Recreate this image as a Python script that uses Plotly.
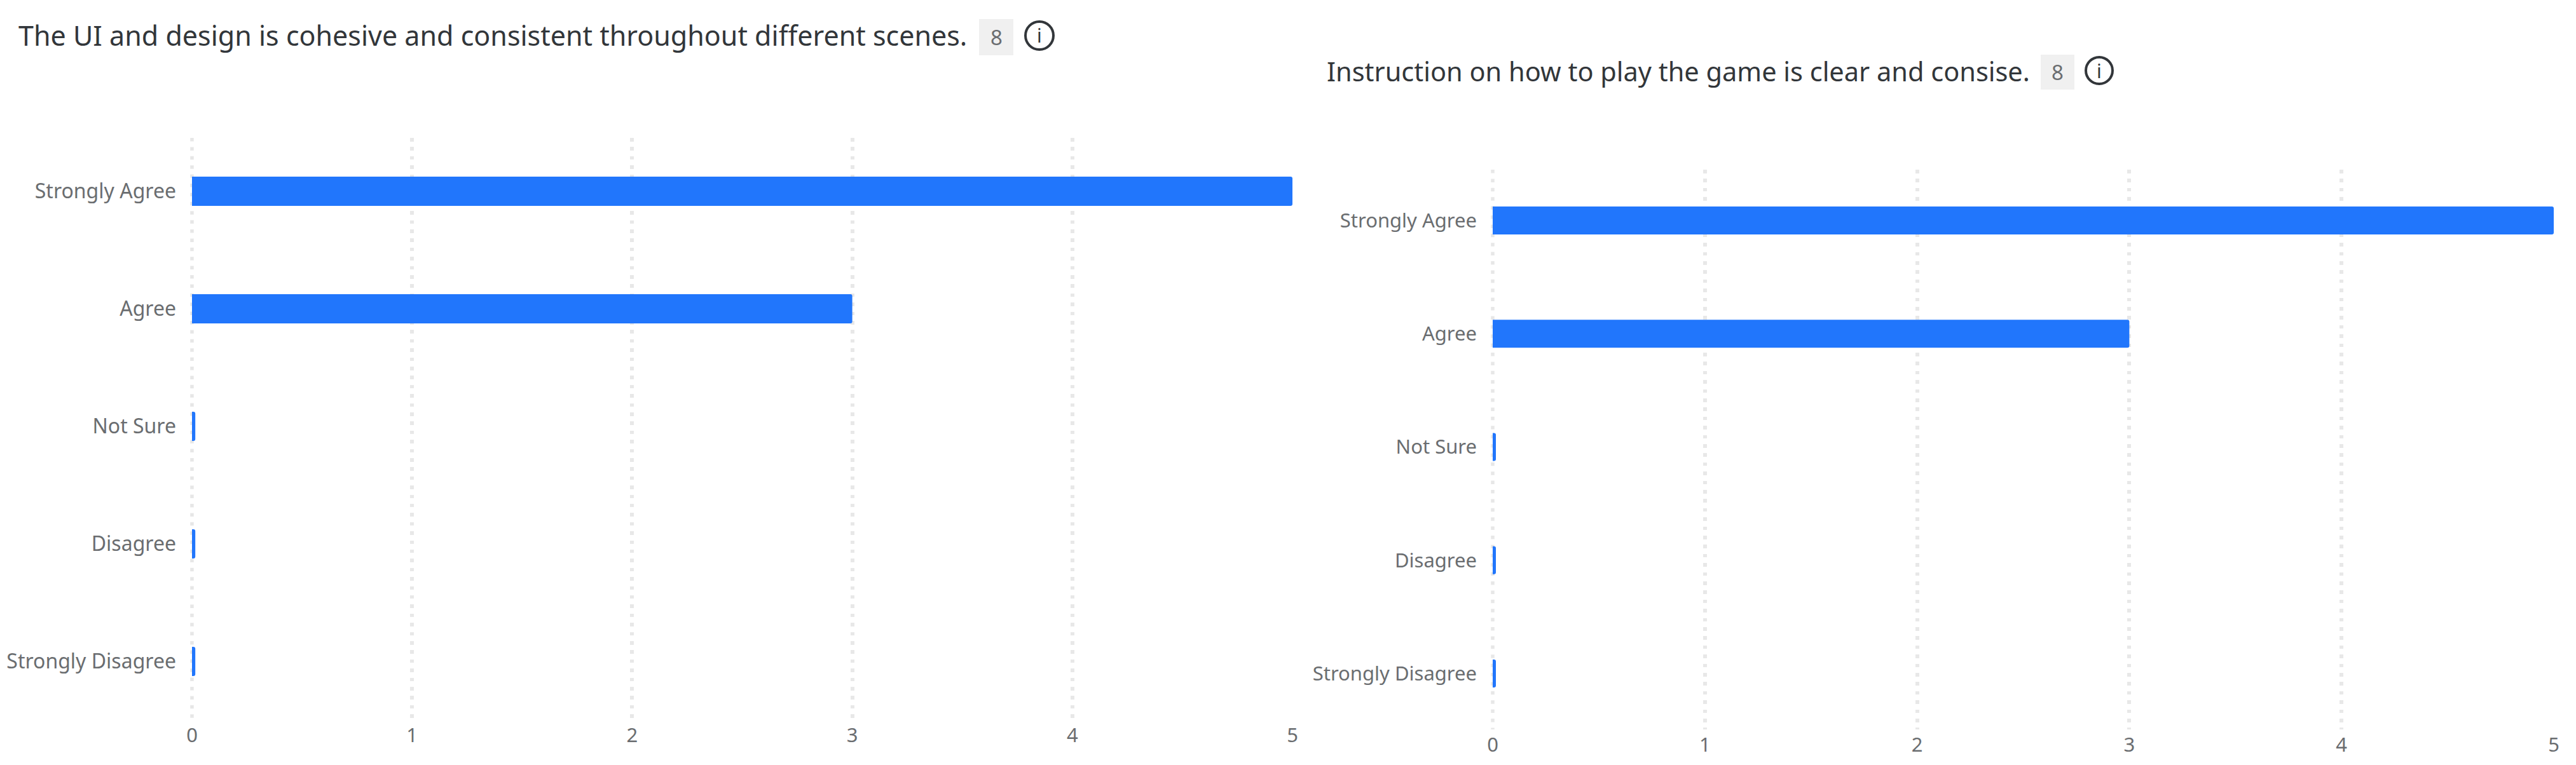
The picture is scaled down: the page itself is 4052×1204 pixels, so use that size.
import plotly.graph_objects as go

W, H = 4052, 1204
categories = ["Strongly Agree", "Agree", "Not Sure", "Disagree", "Strongly Disagree"]
ui_counts = [5, 3, 0.015, 0.015, 0.015]
instruction_counts = [5, 3, 0.015, 0.015, 0.015]
x_ticks = [0, 1, 2, 3, 4, 5]
title_left = "The UI and design is cohesive and consistent throughout different scenes."
title_right = "Instruction on how to play the game is clear and consise."
n_left = "8"
n_right = "8"

FONT = "Noto Sans"
BLUE = "#2176fc"
LABEL = "#6a6d70"
DASH = "5.5px,8.9px"


def px(x):
    return x / W


def py(y):
    return 1 - y / H


fig = go.Figure()
fig.add_bar(x=ui_counts, y=categories, orientation="h", xaxis="x", yaxis="y",
            marker=dict(color=BLUE, line_width=0), width=0.249, showlegend=False)
fig.add_bar(x=instruction_counts, y=categories, orientation="h", xaxis="x2", yaxis="y2",
            marker=dict(color=BLUE, line_width=0), width=0.247, showlegend=False)


def xaxis(x0, x1, anchor, size):
    return dict(domain=[px(x0), px(x1)], range=[0, 5], anchor=anchor, tickmode="array",
                tickvals=x_ticks, showgrid=True, griddash=DASH, gridcolor="rgba(0,0,0,0.09)",
                gridwidth=5.5, zeroline=False, showline=False, ticks="", automargin=False,
                tickfont=dict(family=FONT, size=size, color=LABEL), ticklabelstandoff=3)


def yaxis(y0, y1, r, anchor, size):
    return dict(domain=[py(y1), py(y0)], range=r, anchor=anchor, type="category",
                categoryorder="array", categoryarray=categories, showgrid=False,
                zeroline=False, showline=False, ticks="", automargin=False,
                tickfont=dict(family=FONT, size=size, color=LABEL), ticklabelstandoff=24)


shapes = []
annotations = []


def header(text, n, tx, ty, size, bx0, bx1, by0, by1, cx, cy, r):
    annotations.append(dict(text=text, x=px(tx), y=py(ty), xref="paper", yref="paper",
                            xanchor="left", yanchor="middle", showarrow=False,
                            font=dict(family=FONT, size=size, color="#32363a")))
    shapes.append(dict(type="rect", xref="paper", yref="paper", x0=px(bx0), x1=px(bx1),
                       y0=py(by0), y1=py(by1), fillcolor="#f0f0f0", line_width=0))
    annotations.append(dict(text=n, x=px((bx0 + bx1) / 2), y=py((by0 + by1) / 2), xref="paper",
                            yref="paper", showarrow=False, xanchor="center", yanchor="middle",
                            font=dict(family=FONT, size=33, color=LABEL)))
    shapes.append(dict(type="circle", xref="paper", yref="paper", x0=px(cx - r), x1=px(cx + r),
                       y0=py(cy - r), y1=py(cy + r), line=dict(color="#32363a", width=4)))
    annotations.append(dict(text="i", x=px(cx), y=py(cy), xref="paper", yref="paper",
                            showarrow=False, xanchor="center", yanchor="middle",
                            font=dict(family=FONT, size=30, color="#32363a")))


header(title_left, n_left, 27, 55, 43, 1540, 1594, 30, 87, 1635, 56, 22)
header(title_right, n_right, 2085, 112, 41.5, 3210, 3263, 86, 141, 3302, 111, 21)

for x0, top, bottom in ((302, 217, 1133), (2348, 267, 1148)):
    shapes.append(dict(type="line", xref="paper", yref="paper", x0=px(x0), x1=px(x0),
                       y0=py(top), y1=py(bottom), layer="below",
                       line=dict(color="#e7e7e7", width=5.5, dash=DASH)))

fig.update_layout(
    width=W, height=H, autosize=False, margin=dict(l=0, r=0, t=0, b=0),
    paper_bgcolor="white", plot_bgcolor="white", barcornerradius=3,
    xaxis=xaxis(302, 2033, "y", 31),
    yaxis=yaxis(217, 1133, [4 + 92 / 185, -84 / 185], "x", 32),
    xaxis2=xaxis(2348, 4017, "y2", 31),
    yaxis2=yaxis(267, 1148, [4 + 88 / 178, -80 / 178], "x2", 31),
    shapes=shapes, annotations=annotations,
)

fig.write_html("out.html", config=dict(displayModeBar=False),
               post_script="document.body.style.margin='0';document.body.style.overflow='hidden';")
